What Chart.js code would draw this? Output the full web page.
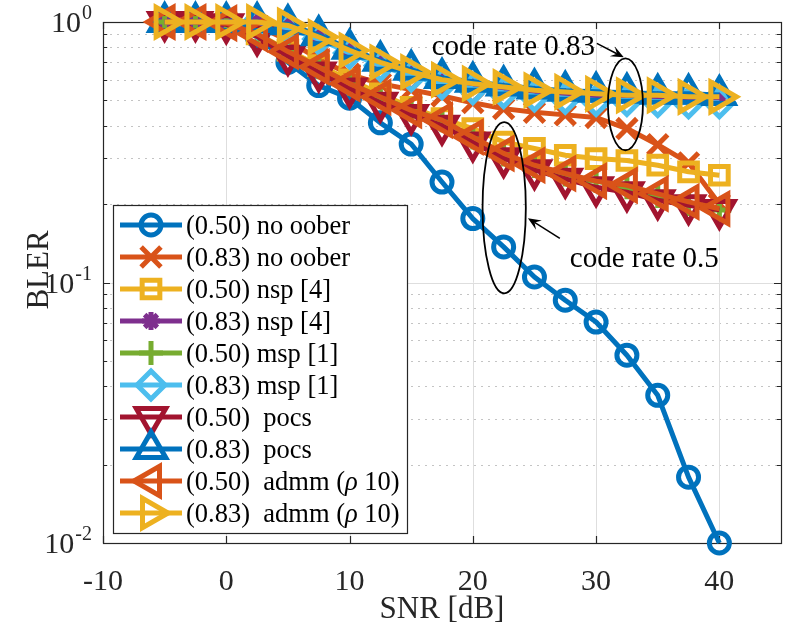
<!DOCTYPE html>
<html><head><meta charset="utf-8">
<script src="https://cdn.jsdelivr.net/npm/chart.js@4.4.0/dist/chart.umd.min.js"></script>
<style>html,body{margin:0;padding:0;background:#fff;overflow:hidden}#wrap{width:791px;height:629px}</style>
</head><body><div id="wrap"><canvas id="c" width="791" height="629"></canvas></div>
<script>
// ---- data ----
const snr = [-5,-2.5,0,2.5,5,7.5,10,12.5,15,17.5,20,22.5,25,27.5,30,32.5,35,37.5,40];
const noOober050 = [1.0,1.0,0.98,0.88,0.70,0.57,0.51,0.41,0.34,0.243,0.176,0.137,0.105,0.0855,0.0705,0.0526,0.0369,0.0179,0.0100];
const noOober083 = [1.0,1.0,1.0,0.97,0.85,0.72,0.63,0.58,0.55,0.52,0.49,0.465,0.45,0.44,0.43,0.39,0.338,0.288,0.20];
const nsp050     = [1.0,1.0,0.99,0.90,0.78,0.68,0.60,0.53,0.47,0.426,0.39,0.346,0.327,0.308,0.299,0.294,0.282,0.266,0.258];
const nsp083     = [1.0,1.0,1.0,1.0,0.97,0.88,0.78,0.70,0.645,0.60,0.575,0.555,0.54,0.53,0.525,0.52,0.52,0.515,0.515];
const msp050     = [1.0,1.0,0.99,0.90,0.77,0.67,0.58,0.515,0.46,0.42,0.36,0.31,0.28,0.26,0.245,0.232,0.215,0.20,0.19];
const msp083     = [1.0,1.0,1.0,0.99,0.95,0.86,0.76,0.68,0.62,0.58,0.555,0.535,0.52,0.51,0.50,0.50,0.495,0.49,0.49];
const pocs050    = [1.0,1.0,0.98,0.88,0.74,0.64,0.555,0.49,0.44,0.40,0.345,0.30,0.27,0.25,0.232,0.222,0.207,0.198,0.19];
const pocs083    = [1.0,1.0,1.0,1.0,0.98,0.89,0.79,0.71,0.655,0.61,0.59,0.57,0.555,0.545,0.54,0.535,0.53,0.53,0.525];
const admm050    = [1.0,1.0,0.99,0.90,0.77,0.672,0.58,0.515,0.458,0.42,0.362,0.313,0.282,0.262,0.245,0.236,0.219,0.204,0.192];
const admm083    = [1.0,1.0,1.0,1.0,0.97,0.876,0.778,0.70,0.643,0.60,0.58,0.563,0.547,0.539,0.53,0.523,0.523,0.516,0.516];
const seriesLabels = ['(0.50) no oober','(0.83) no oober','(0.50) nsp [4]','(0.83) nsp [4]','(0.50) msp [1]','(0.83) msp [1]','(0.50)  pocs','(0.83)  pocs','(0.50)  admm (ρ 10)','(0.83)  admm (ρ 10)'];
const xTicks = [-10,0,10,20,30,40];
const yDecades = [0.01,0.1,1];
const yDecadeExp = ['-2','-1','0'];
const xTitle = 'SNR [dB]';
const yTitle = 'BLER';
const note083 = 'code rate 0.83';
const note050 = 'code rate 0.5';

// ---- styles ----
const seriesData = [noOober050,noOober083,nsp050,nsp083,msp050,msp083,pocs050,pocs083,admm050,admm083];
const styles = [
  {c:'#0072BD', s:'circle',   r:10, rot:0},
  {c:'#D95319', s:'crossRot', r:14, rot:0},
  {c:'#EDB120', s:'rect',     r:12.5, rot:0},
  {c:'#7E2F8E', s:'star',     r:9,  rot:0},
  {c:'#77AC30', s:'cross',    r:12, rot:0},
  {c:'#4DBEEE', s:'rectRot',  r:14, rot:0},
  {c:'#A2142F', s:'triangle', r:17, rot:180},
  {c:'#0072BD', s:'triangle', r:17, rot:0},
  {c:'#D95319', s:'triangle', r:17, rot:270},
  {c:'#EDB120', s:'triangle', r:17, rot:90}
];
const LW = 5;
const FONT = '"Liberation Serif","Times New Roman",serif';
const AX = '#262626';

const yAll = [];
[0.01,0.1].forEach(d=>{for(let k=1;k<10;k++) yAll.push(+(d*k).toPrecision(3));});
yAll.push(1);

const datasets = seriesData.map((arr,i)=>({
  label: seriesLabels[i],
  data: snr.map((x,j)=>({x:x,y:arr[j]})),
  borderColor: styles[i].c,
  borderWidth: LW,
  borderJoinStyle:'round',
  pointStyle: styles[i].s,
  pointRadius: styles[i].r,
  pointRotation: styles[i].rot,
  pointBorderColor: styles[i].c,
  pointBackgroundColor: 'rgba(0,0,0,0)',
  pointBorderWidth: LW,
  pointHoverRadius: styles[i].r,
  fill:false, tension:0, clip:false,
  order: seriesData.length - i
}));

function drawMarker(ctx, st, x, y){
  const r = st.r, rad = st.rot*Math.PI/180;
  ctx.save(); ctx.strokeStyle = st.c; ctx.lineWidth = LW; ctx.beginPath();
  switch(st.s){
    case 'circle': ctx.arc(x,y,r,0,2*Math.PI); ctx.closePath(); break;
    case 'triangle': {
      let a = rad;
      ctx.moveTo(x+Math.sin(a)*r, y-Math.cos(a)*r);
      a += 2*Math.PI/3; ctx.lineTo(x+Math.sin(a)*r, y-Math.cos(a)*r);
      a += 2*Math.PI/3; ctx.lineTo(x+Math.sin(a)*r, y-Math.cos(a)*r);
      ctx.closePath(); break; }
    case 'rect': { const s=r*Math.SQRT1_2; ctx.rect(x-s,y-s,2*s,2*s); break; }
    case 'rectRot': ctx.moveTo(x-r,y); ctx.lineTo(x,y-r); ctx.lineTo(x+r,y); ctx.lineTo(x,y+r); ctx.closePath(); break;
    case 'cross': ctx.moveTo(x,y-r); ctx.lineTo(x,y+r); ctx.moveTo(x-r,y); ctx.lineTo(x+r,y); break;
    case 'crossRot': { const o=r*Math.SQRT1_2; ctx.moveTo(x-o,y-o); ctx.lineTo(x+o,y+o); ctx.moveTo(x+o,y-o); ctx.lineTo(x-o,y+o); break; }
    case 'star': { const o=r*Math.SQRT1_2; ctx.moveTo(x,y-r); ctx.lineTo(x,y+r); ctx.moveTo(x-r,y); ctx.lineTo(x+r,y);
      ctx.moveTo(x-o,y-o); ctx.lineTo(x+o,y+o); ctx.moveTo(x+o,y-o); ctx.lineTo(x-o,y+o); break; }
  }
  ctx.stroke(); ctx.restore();
}

function arrow(ctx, x1,y1,x2,y2){
  const L=13, W=11, ang=Math.atan2(y2-y1,x2-x1);
  const ux=Math.cos(ang), uy=Math.sin(ang), nx=-uy, ny=ux;
  ctx.save(); ctx.strokeStyle='#000'; ctx.fillStyle='#000'; ctx.lineWidth=1.5;
  ctx.beginPath(); ctx.moveTo(x1,y1); ctx.lineTo(x2-ux*L*0.6,y2-uy*L*0.6); ctx.stroke();
  ctx.beginPath(); ctx.moveTo(x2,y2);
  ctx.lineTo(x2-ux*L+nx*W/2, y2-uy*L+ny*W/2);
  ctx.lineTo(x2-ux*L*0.6, y2-uy*L*0.6);
  ctx.lineTo(x2-ux*L-nx*W/2, y2-uy*L-ny*W/2);
  ctx.closePath(); ctx.fill(); ctx.restore();
}

const axesPlugin = {
  id:'matlabAxes',
  beforeDatasetsDraw(chart){
    const ctx=chart.ctx, a=chart.chartArea, xs=chart.scales.x, ys=chart.scales.y;
    ctx.save();
    ctx.strokeStyle='#c4c4c4'; ctx.lineWidth=1; ctx.setLineDash([2,5]);
    yAll.forEach(v=>{ if(yDecades.includes(v)) return; const y=Math.round(ys.getPixelForValue(v))+0.5;
      ctx.beginPath(); ctx.moveTo(a.left,y); ctx.lineTo(a.right,y); ctx.stroke(); });
    ctx.setLineDash([]);
    ctx.strokeStyle='#dedede';
    xTicks.forEach(v=>{ const x=Math.round(xs.getPixelForValue(v))+0.5; if(x<=a.left+1) return;
      ctx.beginPath(); ctx.moveTo(x,a.top); ctx.lineTo(x,a.bottom); ctx.stroke(); });
    yDecades.forEach(v=>{ const y=Math.round(ys.getPixelForValue(v))+0.5; if(y<=a.top+1||y>=a.bottom-1) return;
      ctx.beginPath(); ctx.moveTo(a.left,y); ctx.lineTo(a.right,y); ctx.stroke(); });
    ctx.strokeStyle=AX; ctx.lineWidth=1.2;
    ctx.strokeRect(Math.round(a.left)+0.5, Math.round(a.top)+0.5, Math.round(a.right-a.left), Math.round(a.bottom-a.top));
    const TL=7;
    ctx.beginPath();
    xTicks.forEach(v=>{ const x=Math.round(xs.getPixelForValue(v))+0.5;
      ctx.moveTo(x,a.bottom); ctx.lineTo(x,a.bottom-TL); ctx.moveTo(x,a.top); ctx.lineTo(x,a.top+TL); });
    yAll.forEach(v=>{ const y=Math.round(ys.getPixelForValue(v))+0.5; const t = yDecades.includes(v)?TL:TL*0.6;
      ctx.moveTo(a.left,y); ctx.lineTo(a.left+t,y); ctx.moveTo(a.right,y); ctx.lineTo(a.right-t,y); });
    ctx.stroke();
    ctx.restore();
  },
  afterDatasetsDraw(chart){
    const ctx=chart.ctx, a=chart.chartArea, xs=chart.scales.x, ys=chart.scales.y;
    const px=v=>xs.getPixelForValue(v), py=v=>ys.getPixelForValue(v);
    ctx.save();
    ctx.strokeStyle='#000'; ctx.lineWidth=1.8;
    [[30.96,33.8,0.7256,0.3218],[20.79,24.3,0.413,0.0909]].forEach(e=>{
      const x1=px(e[0]),x2=px(e[1]),y1=py(e[2]),y2=py(e[3]);
      ctx.beginPath(); ctx.ellipse((x1+x2)/2,(y1+y2)/2,Math.abs(x2-x1)/2,Math.abs(y2-y1)/2,0,0,2*Math.PI); ctx.stroke();
    });
    arrow(ctx, px(30.06), py(0.828), px(32.25), py(0.732));
    arrow(ctx, px(27.06), py(0.1478), px(24.47), py(0.1764));
    ctx.fillStyle='#000'; ctx.font='29px '+FONT; ctx.textAlign='left'; ctx.textBaseline='alphabetic';
    ctx.fillText(note083, px(16.66), py(0.745));
    ctx.fillText(note050, px(27.87), py(0.1147));
    // legend
    const L=a.left+10, T=a.top+183, R=a.left+304, B=a.top+511;
    ctx.fillStyle='#fff'; ctx.fillRect(L,T,R-L,B-T);
    ctx.strokeStyle=AX; ctx.lineWidth=1.2; ctx.strokeRect(Math.round(L)+0.5,Math.round(T)+0.5,Math.round(R-L),Math.round(B-T));
    chart.data.datasets.forEach((ds,i)=>{
      const y=T+20+32*i;
      ctx.save(); ctx.strokeStyle=ds.borderColor; ctx.lineWidth=LW; ctx.beginPath(); ctx.moveTo(L+7,y); ctx.lineTo(L+69,y); ctx.stroke(); ctx.restore();
      drawMarker(ctx, styles[i], L+38, y);
      ctx.fillStyle='#000'; ctx.textAlign='left'; ctx.textBaseline='alphabetic';
      let x=L+73; const parts=ds.label.split('ρ');
      parts.forEach((p,k)=>{
        ctx.font='26.5px '+FONT; ctx.fillText(p,x,y+9); x+=ctx.measureText(p).width;
        if(k<parts.length-1){ ctx.font='italic 26.5px '+FONT; ctx.fillText('ρ',x,y+9); x+=ctx.measureText('ρ').width; }
      });
    });
    // y tick labels with superscripts
    ctx.fillStyle=AX;
    yDecades.forEach((v,i)=>{
      const y=py(v), right=a.left-11;
      ctx.font='20px '+FONT; ctx.textAlign='left';
      const sw=ctx.measureText(yDecadeExp[i]).width;
      ctx.fillText(yDecadeExp[i], right-sw, y-3);
      ctx.font='30px '+FONT; ctx.textAlign='right';
      ctx.fillText('10', right-sw-1, y+10);
    });
    // axis titles
    ctx.font='31px '+FONT; ctx.textAlign='center'; ctx.textBaseline='alphabetic';
    ctx.fillText(xTitle, (a.left+a.right)/2, 618);
    ctx.save(); ctx.translate(48, 270); ctx.rotate(-Math.PI/2); ctx.fillText(yTitle,0,0); ctx.restore();
    ctx.restore();
  }
};

new Chart(document.getElementById('c'), {
  type:'line',
  data:{datasets:datasets},
  options:{
    responsive:false, animation:false, devicePixelRatio:1,
    layout:{padding:{left:0,right:10,top:22,bottom:0}, autoPadding:false},
    plugins:{legend:{display:false}, tooltip:{enabled:false}},
    events:[],
    scales:{
      x:{type:'linear', min:-10, max:45,
        afterBuildTicks:s=>{s.ticks=xTicks.map(v=>({value:v}));},
        afterFit:s=>{s.height=86;},
        grid:{display:false}, border:{display:false},
        ticks:{font:{family:FONT,size:30}, color:AX, padding:13, maxRotation:0, autoSkip:false, callback:v=>String(v)}
      },
      y:{type:'logarithmic', min:0.01, max:1,
        afterBuildTicks:s=>{s.ticks=yAll.map(v=>({value:v}));},
        afterFit:s=>{s.width=103;},
        grid:{display:false}, border:{display:false},
        ticks:{display:false}
      }
    }
  },
  plugins:[axesPlugin]
});
</script></body></html>
